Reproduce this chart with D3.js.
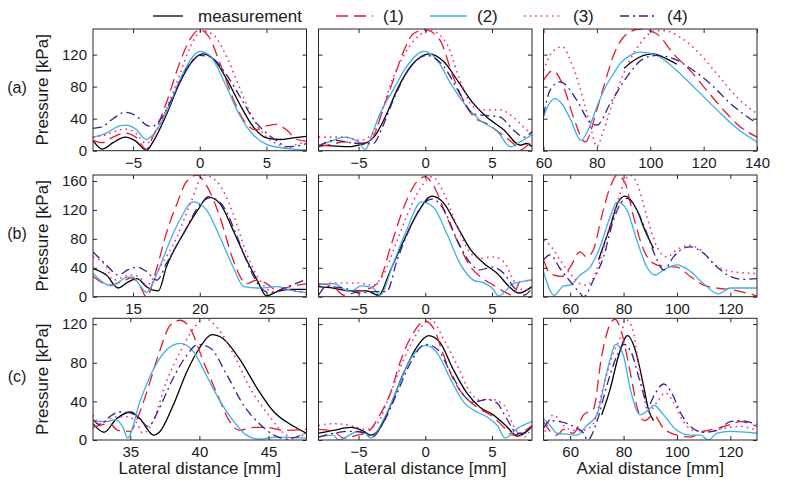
<!DOCTYPE html>
<html><head><meta charset="utf-8">
<script src="https://cdn.jsdelivr.net/npm/d3@7"></script>
<style>body{margin:0;background:#fff;} svg{font-family:"Liberation Sans",Arial,Helvetica,sans-serif;}</style>
</head><body><svg id="c" width="800" height="490"></svg>
<script>
// ---------- labels ----------
const seriesNames = ["measurement","(1)","(2)","(3)","(4)"];
const rowLabels = ["(a)","(b)","(c)"];
const xLabels = ["Lateral distance [mm]","Lateral distance [mm]","Axial distance [mm]"];
const yLabel = "Pressure [kPa]";

// ---------- axis domains / ticks ----------
const xDom_lat = [-8, 8], xDom_a3 = [60, 140], xDom_b1 = [12, 28], xDom_c1 = [32.3, 47.75], xDom_ax = [50, 130];
const yDom_a = [0, 152], yDom_b = [0, 168.3], yDom_c = [0, 126];
const xTicks_lat = [-5, 0, 5], xTicks_a3 = [60, 80, 100, 120, 140], xTicks_b1 = [15, 20, 25], xTicks_c1 = [35, 40, 45], xTicks_ax = [60, 80, 100, 120];
const yTicks_a = [0, 40, 80, 120], yTicks_b = [0, 40, 80, 120, 160], yTicks_c = [0, 40, 80, 120];

// ---------- row (a) ----------
const a1_meas = [[-8,13],[-7.3,2],[-6.5,10],[-5.6,17],[-4.8,12],[-4,0.5],[-3.5,11],[-2.5,45],[-1.5,85],[-0.5,113],[0.2,121],[1,115],[2,90],[3,58],[4,30],[5,16],[6,14],[7,16],[8,18]];
const a1_m1 = [[-8,13],[-7.3,10],[-6.5,17],[-5.6,22],[-4.8,17],[-4,2],[-3.5,18],[-2.5,60],[-1.5,110],[-0.7,140],[0,151],[0.7,142],[1.5,110],[2.5,65],[3.3,38],[4.2,26],[5,31],[5.7,33],[6.5,26],[7.3,14],[8,12]];
const a1_m2 = [[-8,17],[-7,22],[-6,31],[-5.5,32],[-4.8,27],[-4,14],[-3.5,20],[-2.5,48],[-1.5,88],[-0.5,118],[0,124],[0.8,118],[2,80],[3,44],[4,20],[5,8],[6,4],[7,2],[8,1]];
const a1_m3 = [[-8,17],[-7,20],[-6,26],[-5.5,27],[-4.8,22],[-4,9],[-3.5,18],[-2.5,52],[-1.5,95],[-0.7,130],[0.2,150],[1,145],[2,118],[3,78],[4,40],[5,17],[6,7],[6.6,4],[7.3,8],[8,11]];
const a1_m4 = [[-8,28],[-7.3,30],[-6.5,40],[-5.6,48],[-4.8,44],[-4,32],[-3.6,30],[-3,38],[-2,68],[-1,102],[0,119],[0.8,117],[2,95],[3,68],[4,40],[5,22],[5.8,12],[6.5,5],[7.3,6],[8,9]];

const a2_meas = [[-8,7],[-7,6],[-5.6,5],[-5,7],[-4.5,9],[-3.8,18],[-3,42],[-2,80],[-1,107],[0.3,121],[1.4,111],[2.4,88],[3.6,59],[4.6,42],[5.9,26],[7.1,7],[7.6,9],[8,5]];
const a2_m1 = [[-8,5],[-7,8],[-6.1,11],[-5,9],[-4.1,13],[-3.1,55],[-2.4,88],[-1.6,125],[-0.9,146],[0,151],[1.1,138],[2.1,92],[3.1,55],[3.8,40],[4.6,34],[5.6,22],[6.6,9],[7.1,1],[8,13]];
const a2_m2 = [[-8,7],[-7,12],[-6.1,17],[-5,11],[-4.5,1],[-4,20],[-3.4,46],[-2.4,76],[-1.4,105],[-0.1,124],[0.9,113],[1.9,84],[3.1,55],[4.1,38],[5.4,24],[6.4,5],[7.1,11],[8,20]];
const a2_m3 = [[-8,17],[-6.1,17],[-4.9,13],[-3.9,22],[-2.4,92],[-1.2,130],[0.4,150],[1.6,134],[2.6,88],[3.6,55],[4.6,51],[5.6,51],[6.6,42],[7.6,26],[8,22]];
const a2_m4 = [[-8,5],[-6.9,13],[-4.9,9],[-3.9,9],[-3.2,30],[-2.4,63],[-1.1,105],[0.1,119],[1.4,105],[2.6,71],[3.6,46],[4.6,44],[5.6,42],[6.6,26],[7.4,17],[8,24]];

const a3_meas = [[90.2,103],[94,113],[97.5,119],[101,121],[106,115],[110,108]];
const a3_m1 = [[60,88],[63.5,100],[67.5,80],[71.2,42],[75.6,11],[80,51],[83,85],[86,117],[91.2,146],[96.2,152],[102.4,146],[108.7,121],[115,100],[121,76],[127.4,51],[133.7,30],[140,17]];
const a3_m2 = [[60,42],[62,58],[64.4,65],[67,58],[70,40],[74,13],[77,28],[80,55],[83,78],[86.2,96],[89,110],[92.5,119],[96.2,123],[102.4,119],[110,100],[117.4,76],[125,51],[132.4,28],[140,11]];
const a3_m3 = [[60,100],[63,122],[66.9,130],[71,105],[75,63],[78,25],[80,5],[82,20],[85,51],[90,96],[96.2,134],[102.4,150],[105,150],[111,142],[117.4,125],[125,96],[132.4,67],[140,46]];
const a3_m4 = [[60,44],[62.5,76],[66.2,86],[72.5,63],[76.8,38],[80,32],[85,59],[91.2,92],[97.5,115],[102.4,119],[108.7,115],[115,103],[122.4,84],[130,59],[140,34]];

// ---------- row (b) ----------
const b1_meas = [[12,39],[13,30],[13.9,12],[14.6,20],[15.3,25],[16,14],[16.5,9],[16.9,8],[17.5,41],[18.8,88],[20,124],[20.6,138],[21.5,129],[22.5,92],[23.5,51],[24.3,23],[25,1],[25.8,7],[26.8,10],[28,10]];
const b1_m1 = [[12,28],[13.3,16],[14.4,23],[14.9,26],[15.5,16],[16,0],[16.8,41],[17.5,88],[18.3,129],[19,159],[19.8,168],[20.5,154],[21.5,111],[22.5,51],[23.5,18],[24.3,23],[25,18],[25.8,9],[26.8,14],[28,18]];
const b1_m2 = [[12,32],[13.4,15],[14.6,27],[15,27],[15.5,16],[16,6],[16.8,32],[17.5,65],[18.5,106],[19.5,131],[20.5,120],[21.5,83],[22.5,41],[23.3,14],[24.5,12],[25.8,14],[27,8],[28,6]];
const b1_m3 = [[12,55],[13,41],[13.5,23],[14.8,30],[15.5,27],[16,16],[17,41],[18.3,83],[19.3,129],[20.3,168],[21.3,159],[22.5,115],[23.5,60],[24.5,23],[25.5,7],[26.5,10],[28,4]];
const b1_m4 = [[12,62],[13,44],[13.9,30],[14.6,37],[15.3,41],[16,35],[16.8,23],[17.5,46],[18.8,88],[20,127],[20.8,137],[21.8,124],[22.8,83],[23.8,37],[24.5,14],[25.3,5],[26.3,12],[28,24]];

const b2_meas = [[-8,14],[-6.9,12],[-5.6,8],[-4.4,8],[-3.5,2],[-2.6,37],[-1.6,78],[-0.6,115],[0.5,139],[1.4,129],[2.4,97],[3.4,65],[4.4,46],[5.4,32],[6.4,12],[7,5],[8,14]];
const b2_m1 = [[-8,18],[-6.9,14],[-6.1,2],[-5.1,7],[-3.9,14],[-3.4,23],[-2.6,69],[-1.6,124],[-0.9,152],[0,166],[0.6,154],[1.6,111],[2.6,69],[3.4,41],[4.1,28],[5.1,16],[5.9,7],[6.6,2],[7.1,21],[8,23]];
const b2_m2 = [[-8,16],[-6.9,18],[-5.6,7],[-4.8,15],[-3.9,12],[-3.4,2],[-2.4,46],[-1.4,92],[-0.3,131],[0.6,124],[1.6,88],[2.6,46],[3.6,23],[4.4,19],[5,12],[5.5,1],[6.6,18],[8,23]];
const b2_m3 = [[-8,16],[-6.9,19],[-5.1,19],[-3.9,16],[-3.1,32],[-2.1,78],[-1.1,124],[-0.1,157],[0.5,166],[1.4,143],[2.4,97],[3.4,60],[4.1,53],[5.1,55],[5.9,48],[6.6,23],[7.4,9],[8,14]];
const b2_m4 = [[-8,2],[-7.4,14],[-6.1,12],[-4.9,5],[-3.9,7],[-2.9,7],[-2.1,51],[-1.1,97],[-0.1,129],[0.5,135],[1.4,120],[2.4,78],[3.4,46],[4.1,37],[5,41],[5.9,32],[6.6,14],[7.4,2],[8,12]];

const b3_meas = [[70.6,51],[75,97],[78,131],[80.6,139],[85,120],[88,92],[91.2,67]];
const b3_m1 = [[50,51],[52.5,32],[56.9,28],[60,41],[63.7,62],[66.2,55],[68.7,65],[71.8,111],[75,152],[77.5,168],[80.6,157],[83.7,111],[87.5,65],[91.2,46],[95,42],[100,41],[105,28],[110,16],[115,12],[120,10],[130,1]];
const b3_m2 = [[50,35],[54,2],[57.5,15],[60,16],[63.7,30],[67.5,41],[71.2,69],[75,111],[77.7,131],[81.2,120],[85,78],[88.7,41],[91.8,30],[95,37],[100,44],[105,35],[110,18],[115.5,4],[120,12],[130,12]];
const b3_m3 = [[50,78],[52.5,71],[56.2,51],[60,32],[63.7,18],[66.2,16],[70,37],[73.7,83],[77.5,129],[80.6,161],[82.5,168],[85,157],[88.7,111],[92.5,69],[96.2,55],[100,65],[104.3,71],[108.7,65],[113.7,46],[120,35],[130,32]];
const b3_m4 = [[50,51],[52.5,58],[56.2,39],[60,21],[63.7,5],[65,0],[68.7,23],[72.5,55],[76.2,106],[79.3,131],[81.2,136],[85,120],[88.7,88],[92.5,51],[95,37],[98.7,55],[102.4,67],[105,69],[110,60],[115,41],[120,28],[125,24],[130,25]];

// ---------- row (c) ----------
const c1_meas = [[32.3,17],[33.1,8],[34,22],[35,29],[35.7,22],[36.7,5],[37.1,8],[38.1,36],[39.1,71],[40,95],[40.9,109],[41.7,105],[42.9,84],[44.2,53],[45.4,29],[46.6,16],[47.75,7]];
const c1_m1 = [[32.3,13],[33,16],[33.5,17],[34.1,10],[35,9],[35.5,22],[36.2,50],[37.1,91],[37.9,119],[38.6,124],[39.3,116],[40.3,81],[41.3,47],[42.2,19],[42.9,10],[43.9,13],[44.9,13],[46.1,10],[47.75,11]];
const c1_m2 = [[32.3,20],[33.3,19],[33.9,21],[34.5,12],[34.8,2],[35.7,40],[36.7,74],[37.6,93],[38.6,100],[39.6,91],[40.5,67],[41.5,40],[42.5,19],[43.4,5],[44.3,1],[45.6,3],[47.75,2]];
const c1_m3 = [[32.3,26],[32.8,17],[33.5,22],[34,24],[34.8,24],[35.5,17],[35.9,7],[36.7,21],[37.6,60],[38.6,91],[39.6,116],[40.4,126],[41.3,116],[42.5,88],[43.7,53],[45,26],[46.1,7],[46.8,2],[47.75,7]];
const c1_m4 = [[32.3,21],[32.8,16],[33.5,24],[34.2,29],[35,28],[35.7,21],[36.3,14],[37.1,33],[38.1,64],[39.1,88],[39.9,99],[40.8,95],[42,67],[43.2,36],[44.4,16],[45.4,5],[46.3,1],[47.75,8]];

const c2_meas = [[-8,7],[-6.9,10],[-5.6,13],[-4.6,9],[-4.1,5],[-3.4,12],[-2.6,36],[-1.6,70],[-0.6,97],[0.25,108],[1.1,101],[2.1,73],[3.1,49],[4.1,34],[5.1,26],[6.1,14],[6.9,4],[8,14]];
const c2_m1 = [[-8,11],[-6.9,9],[-6.1,2],[-5.1,5],[-4.25,9],[-3.4,26],[-2.6,49],[-1.9,80],[-0.9,111],[0,123],[0.6,116],[1.4,87],[2.1,63],[2.9,46],[3.4,39],[4.1,32],[5.1,24],[5.9,13],[6.6,5],[8,15]];
const c2_m2 = [[-8,3],[-6.9,5],[-6.5,0],[-5,9],[-4.5,7],[-4.1,2],[-3.1,22],[-2.1,53],[-1.1,84],[0,98],[0.9,90],[1.9,63],[2.9,39],[3.6,31],[4.6,24],[5.4,15],[6,2],[6.9,12],[8,19]];
const c2_m3 = [[-8,15],[-6.9,17],[-5.6,15],[-4.4,11],[-3.6,17],[-2.6,49],[-1.6,84],[-0.6,111],[0.4,125],[1.4,104],[2.4,77],[3.4,49],[4.1,41],[5,42],[5.9,36],[6.6,15],[7.4,3],[8,14]];
const c2_m4 = [[-8,3],[-6.9,7],[-5.6,9],[-4.4,7],[-4,3],[-3.1,19],[-2.1,49],[-1.1,80],[0,99],[0.9,94],[1.9,70],[2.9,46],[3.6,39],[4.6,42],[5.4,38],[6.1,22],[6.9,7],[7.4,7],[8,15]];

const c3_meas = [[71.8,26],[75,53],[78.1,87],[81.5,108],[84.3,94],[87.5,56],[89.3,32],[91.2,20]];
const c3_m1 = [[50,19],[52.5,9],[55,5],[57.5,11],[61.2,7],[65,26],[68.7,32],[71.8,87],[75.6,123],[76.8,125],[79.3,111],[82.5,70],[85.6,29],[88,20],[91.2,26],[95,12],[100,5],[105,3],[110,9],[115,12],[120,16],[123.7,19],[130,14]];
const c3_m2 = [[50,22],[52.5,15],[55,7],[58.7,6],[62.5,5],[66.2,15],[70,26],[73.7,70],[77.2,99],[80,87],[82.5,53],[86.2,26],[89.3,31],[91.4,36],[95,26],[100,10],[105,5],[108.7,5],[111.8,0],[115,7],[120,9],[130,7]];
const c3_m3 = [[50,3],[53.7,26],[57.5,15],[61.2,10],[65,10],[68.7,17],[72.5,56],[76.2,90],[79.3,111],[80.6,125],[83,118],[86.2,70],[89.3,29],[92.5,39],[95.6,49],[98.7,39],[102.4,19],[107.4,9],[112.4,9],[117.4,12],[123.7,14],[130,10]];
const c3_m4 = [[50,12],[52.5,20],[56.2,19],[61.2,14],[65,7],[66.5,0],[70,19],[73.7,56],[77.5,87],[80.2,99],[83,90],[86.2,60],[89.3,36],[91.8,48],[95,58],[98,49],[101.2,29],[105,14],[110,8],[115,10],[120,19],[123.7,20],[130,16]];

// ---------- panel table ----------
const panels = [
  {xd:xDom_lat, yd:yDom_a, xt:xTicks_lat, yt:yTicks_a, s:[a1_meas,a1_m1,a1_m2,a1_m3,a1_m4]},
  {xd:xDom_lat, yd:yDom_a, xt:xTicks_lat, yt:yTicks_a, s:[a2_meas,a2_m1,a2_m2,a2_m3,a2_m4]},
  {xd:xDom_a3,  yd:yDom_a, xt:xTicks_a3,  yt:yTicks_a, s:[a3_meas,a3_m1,a3_m2,a3_m3,a3_m4]},
  {xd:xDom_b1,  yd:yDom_b, xt:xTicks_b1,  yt:yTicks_b, s:[b1_meas,b1_m1,b1_m2,b1_m3,b1_m4]},
  {xd:xDom_lat, yd:yDom_b, xt:xTicks_lat, yt:yTicks_b, s:[b2_meas,b2_m1,b2_m2,b2_m3,b2_m4]},
  {xd:xDom_ax,  yd:yDom_b, xt:xTicks_ax,  yt:yTicks_b, s:[b3_meas,b3_m1,b3_m2,b3_m3,b3_m4]},
  {xd:xDom_c1,  yd:yDom_c, xt:xTicks_c1,  yt:yTicks_c, s:[c1_meas,c1_m1,c1_m2,c1_m3,c1_m4]},
  {xd:xDom_lat, yd:yDom_c, xt:xTicks_lat, yt:yTicks_c, s:[c2_meas,c2_m1,c2_m2,c2_m3,c2_m4]},
  {xd:xDom_ax,  yd:yDom_c, xt:xTicks_ax,  yt:yTicks_c, s:[c3_meas,c3_m1,c3_m2,c3_m3,c3_m4]}
];

// ---------- styles ----------
const styles = [
  {c:"#000000", w:1.3, d:null},
  {c:"#e8192c", w:1.3, d:"12,6"},
  {c:"#3cb0e6", w:1.3, d:null},
  {c:"#f0329a", w:1.6, d:"1.6,4"},
  {c:"#3a1f8c", w:1.3, d:"9,4,2,4"}
];

const svg = d3.select("#c");
const colX = [93, 318.5, 543.5], W = 213.5;
const rowY = [29, 175, 318.3], H = 121.7;
const frameCol = "#262626";

panels.forEach((p, i) => {
  const r = Math.floor(i / 3), c = i % 3;
  const g = svg.append("g").attr("transform", `translate(${colX[c]},${rowY[r]})`);
  const x = d3.scaleLinear().domain(p.xd).range([0, W]);
  const y = d3.scaleLinear().domain(p.yd).range([H, 0]);
  const id = "clip" + i;
  g.append("clipPath").attr("id", id).append("rect").attr("width", W).attr("height", H);
  const lg = g.append("g").attr("clip-path", `url(#${id})`);
  const line = d3.line().x(d => x(d[0])).y(d => y(d[1])).curve(d3.curveMonotoneX);
  p.s.forEach((s, k) => {
    const st = styles[k];
    lg.append("path").datum(s).attr("d", line)
      .attr("fill", "none").attr("stroke", st.c).attr("stroke-width", st.w)
      .attr("stroke-dasharray", st.d).attr("stroke-linejoin", "round");
  });
  // axes
  const ax = (sel) => { sel.select(".domain").remove(); sel.selectAll("line").attr("stroke", frameCol); sel.selectAll("text").attr("fill", "#1a1a1a").style("font-size", "15px"); };
  g.append("g").attr("transform", `translate(0,${H})`)
    .call(d3.axisBottom(x).tickValues(p.xt).tickSize(-4).tickPadding(6.5).tickFormat(d3.format("d"))).call(ax);
  g.append("g").call(d3.axisTop(x).tickValues(p.xt).tickSize(-4).tickFormat("")).call(ax);
  const left = d3.axisLeft(y).tickValues(p.yt).tickSize(-4).tickPadding(6);
  if (c !== 0) left.tickFormat("");
  g.append("g").call(left).call(ax);
  g.append("g").attr("transform", `translate(${W},0)`).call(d3.axisRight(y).tickValues(p.yt).tickSize(-4).tickFormat("")).call(ax);
  g.append("rect").attr("width", W).attr("height", H).attr("fill", "none").attr("stroke", frameCol).attr("stroke-width", 1);

  if (c === 0) {
    svg.append("text").attr("transform", `translate(48,${rowY[r] + H / 2}) rotate(-90)`)
      .attr("text-anchor", "middle").style("font-size", "17px").attr("fill", "#1a1a1a").text(yLabel);
    svg.append("text").attr("x", 17).attr("y", rowY[r] + H / 2 + 3)
      .attr("text-anchor", "middle").style("font-size", "16px").attr("fill", "#1a1a1a").text(rowLabels[r]);
  }
  if (r === 2) {
    svg.append("text").attr("x", colX[c] + W / 2).attr("y", 474)
      .attr("text-anchor", "middle").style("font-size", "17px").attr("fill", "#1a1a1a").text(xLabels[c]);
  }
});

// ---------- legend ----------
const legendPos = [[153,183,198],[336,373,383],[430,467,477],[524,562,573],[620,657,667]];
seriesNames.forEach((n, k) => {
  const st = styles[k], lp = legendPos[k];
  svg.append("line").attr("x1", lp[0]).attr("x2", lp[1]).attr("y1", 16).attr("y2", 16)
    .attr("stroke", st.c).attr("stroke-width", st.w).attr("stroke-dasharray", st.d);
  svg.append("text").attr("x", lp[2]).attr("y", 21.5).style("font-size", "17px").attr("fill", "#1a1a1a").text(n);
});
</script></body></html>
